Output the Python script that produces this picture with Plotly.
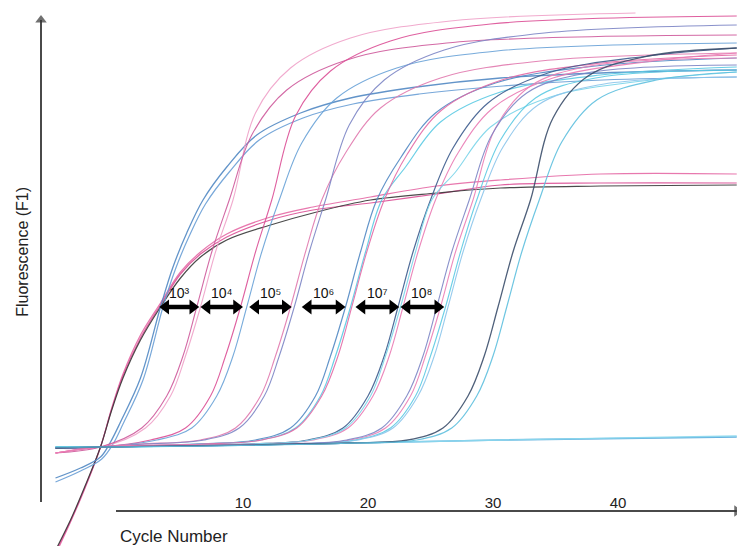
import plotly.graph_objects as go

FONT = "Arial, Liberation Sans, sans-serif"

# Cycle axis labels
cycle_ticks = [10, 20, 30, 40]

# ---- amplification curves: cycle number vs fluorescence (F1, arbitrary units) ----
# low-plateau group (black + two pink replicates)
low_cyc = [-5.4, -3.8, -2.6, -1.4, -0.5, 0.4, 1.8, 3.4, 5.0, 6.6, 8.7, 12.2, 15.6, 20.2, 25.5, 30.6, 38.6, 49.5]
low_black_f = [-5.8, -1.8, 1.7, 5.5, 9.2, 12.4, 16.2, 19.5, 22.4, 24.5, 26.2, 27.7, 28.9, 30.2, 30.9, 31.4, 31.6, 31.7]
low_pink1_f = [-6.3, -2.0, 1.5, 5.5, 9.4, 12.8, 16.7, 19.9, 23.0, 25.0, 26.8, 28.5, 29.5, 30.5, 31.6, 32.2, 32.8, 32.8]
low_pink2_f = [-6.0, -1.9, 1.6, 5.5, 9.3, 12.6, 16.4, 19.7, 22.8, 24.8, 26.5, 28.2, 29.2, 29.9, 30.8, 31.7, 31.9, 31.9]

# earliest blue replicates
blue1_cyc = [-5.0, -3.0, -1.4, -0.6, 0.2, 1.8, 3.4, 4.4, 5.5, 6.8, 8.7, 11.1, 14.6, 18.6, 23.9, 30.6, 38.6, 49.5]
blue1_f = [2.4, 3.4, 4.5, 6.0, 8.0, 12.4, 19.5, 23.5, 26.9, 30.2, 33.5, 36.7, 38.9, 40.4, 41.5, 42.4, 42.9, 43.2]
blue2_cyc = [-5.0, -3.0, -1.3, -0.4, 0.4, 2.0, 3.6, 4.6, 5.7, 7.0, 8.9, 11.3, 14.8, 18.8, 24.1, 30.8, 38.8, 49.5]
blue2_f = [2.0, 3.1, 4.3, 5.8, 7.8, 12.2, 19.5, 23.3, 26.6, 29.8, 33.0, 36.2, 38.4, 39.8, 40.8, 41.6, 42.2, 42.5]

# 10^4 step
c1_cyc = [-5.0, -1.4, 2.2, 4.2, 5.4, 6.6, 7.8, 9.2, 11.0, 13.8, 18.6, 26.6, 41.4]
c1_f = [5.4, 5.5, 7.4, 10.6, 14.6, 19.5, 25.0, 30.2, 38.9, 43.4, 46.4, 48.1, 48.9]
c2_cyc = [-5.0, -1.4, 1.9, 3.9, 5.2, 6.3, 7.5, 8.9, 10.7, 13.5, 18.3, 26.3, 49.5]
c2_f = [4.9, 5.5, 7.4, 10.6, 14.6, 19.5, 25.0, 30.2, 36.7, 41.2, 44.2, 45.9, 46.7]

# 10^5 step
d1_cyc = [-5.0, -1.4, 2.6, 5.4, 7.4, 8.6, 9.8, 11.0, 12.3, 14.2, 17.0, 21.8, 29.8, 49.5]
d1_f = [5.4, 5.5, 6.2, 7.4, 10.6, 14.6, 19.5, 25.0, 30.2, 38.6, 43.1, 46.1, 47.8, 48.6]
d2_cyc = [-5.0, -1.4, 3.1, 5.9, 7.9, 9.2, 10.3, 11.5, 12.9, 14.7, 17.5, 22.3, 30.3, 49.5]
d2_f = [5.4, 5.5, 6.2, 7.4, 10.6, 14.6, 19.5, 25.0, 30.2, 35.9, 40.4, 43.4, 45.1, 45.9]

# 10^6 step
e1_cyc = [-5.0, -1.4, 1.8, 6.6, 9.4, 11.4, 12.6, 13.8, 15.0, 16.3, 18.2, 21.0, 25.8, 33.8, 49.5]
e1_f = [4.9, 5.5, 5.8, 6.2, 7.4, 10.6, 14.6, 19.5, 25.0, 30.2, 34.9, 39.4, 42.4, 44.1, 44.9]
e2_cyc = [-5.0, -1.4, 2.1, 6.9, 9.7, 11.7, 12.9, 14.1, 15.3, 16.6, 18.5, 21.3, 26.1, 34.1, 49.5]
e2_f = [5.4, 5.5, 5.8, 6.2, 7.4, 10.6, 14.6, 19.5, 25.0, 30.2, 37.7, 42.2, 45.2, 46.9, 47.7]

# 10^7 step
f1_cyc = [-5.0, -1.4, 6.2, 11.0, 13.8, 15.8, 17.0, 18.2, 19.4, 20.7, 22.6, 25.4, 30.2, 38.2, 49.5]
f1_f = [5.4, 5.5, 5.8, 6.2, 7.4, 10.6, 14.6, 19.5, 25.0, 30.2, 34.4, 38.9, 41.9, 43.6, 44.4]
f2_cyc = [-5.0, -1.4, 6.6, 11.4, 14.2, 16.2, 17.4, 18.6, 19.8, 21.1, 23.0, 25.8, 30.6, 38.6, 49.5]
f2_f = [5.5, 5.5, 5.8, 6.2, 7.4, 10.6, 14.6, 19.5, 25.0, 30.2, 33.5, 38.0, 41.0, 42.7, 43.5]
f3_cyc = [-5.0, -1.4, 6.7, 11.5, 14.3, 16.3, 17.6, 18.7, 19.9, 21.3, 23.1, 25.9, 30.7, 38.7, 49.5]
f3_f = [4.9, 5.5, 5.8, 6.2, 7.4, 10.6, 14.6, 19.5, 25.0, 30.2, 34.7, 39.2, 42.2, 43.9, 44.7]

# 10^8 step
g1_cyc = [-5.0, -1.4, 10.4, 15.2, 18.0, 20.0, 21.3, 22.4, 23.6, 25.0, 26.8, 29.6, 34.4, 42.4, 49.5]
g1_f = [5.4, 5.5, 5.8, 6.2, 7.4, 10.6, 14.6, 19.5, 25.0, 30.2, 35.4, 39.9, 42.9, 44.6, 45.4]
g2_cyc = [-5.0, -1.4, 10.8, 15.6, 18.4, 20.4, 21.7, 22.8, 24.0, 25.4, 27.2, 30.0, 34.8, 42.8, 49.5]
g2_f = [4.9, 5.5, 5.8, 6.2, 7.4, 10.6, 14.6, 19.5, 25.0, 30.2, 34.9, 39.4, 42.4, 44.1, 44.9]
g3_cyc = [-5.0, -1.4, 10.6, 15.4, 18.2, 20.2, 21.4, 22.6, 23.8, 25.1, 27.0, 29.8, 34.6, 42.6, 49.5]
g3_f = [5.5, 5.5, 5.8, 6.2, 7.4, 10.6, 14.6, 19.5, 25.0, 30.2, 33.0, 37.5, 40.5, 42.2, 43.0]

# 10^9 step
h1_cyc = [-5.0, -1.4, 13.8, 18.6, 21.4, 23.4, 24.6, 25.8, 27.0, 28.4, 30.2, 33.0, 37.8, 49.5]
h1_f = [4.9, 5.5, 5.8, 6.2, 7.4, 10.6, 14.6, 19.5, 25.0, 30.2, 37.4, 41.6, 43.6, 44.4]
h2_cyc = [-5.0, -1.4, 14.2, 19.0, 21.8, 23.8, 25.0, 26.2, 27.4, 28.7, 30.6, 33.4, 38.2, 49.5]
h2_f = [5.5, 5.5, 5.8, 6.2, 7.4, 10.6, 14.6, 19.5, 25.0, 30.2, 36.2, 40.4, 42.4, 43.2]
h3_cyc = [-5.0, -1.4, 14.4, 19.2, 22.0, 24.0, 25.3, 26.4, 27.6, 29.0, 30.8, 33.6, 38.4, 49.5]
h3_f = [5.4, 5.5, 5.8, 6.2, 7.4, 10.6, 14.6, 19.5, 25.0, 30.2, 35.5, 39.7, 41.7, 42.5]
h4_cyc = [-5.0, -1.4, 13.5, 18.3, 21.1, 23.1, 24.4, 25.5, 26.7, 28.1, 29.9, 32.7, 37.5, 49.5]
h4_f = [5.4, 5.5, 5.8, 6.2, 7.4, 10.6, 14.6, 19.5, 25.0, 30.2, 36.7, 40.9, 42.9, 43.7]

# latest step
i1_cyc = [-5.0, -1.4, 18.4, 23.2, 26.0, 28.0, 29.3, 30.4, 31.6, 33.0, 34.8, 37.6, 42.4, 49.5]
i1_f = [5.4, 5.5, 5.9, 6.2, 7.4, 10.6, 14.6, 19.5, 25.0, 30.2, 38.4, 42.6, 44.6, 45.4]
i2_cyc = [-5.0, -1.4, 19.1, 23.9, 26.7, 28.7, 30.0, 31.1, 32.3, 33.7, 35.5, 38.3, 43.1, 49.5]
i2_f = [5.5, 5.5, 5.9, 6.2, 7.4, 10.6, 14.6, 19.5, 25.0, 30.2, 36.0, 40.2, 42.2, 43.0]

# no-template controls (flat)
ntc_cyc = [-5.0, -1.4, 14.6, 30.6, 49.5]
ntc1_f = [5.4, 5.5, 5.8, 6.2, 6.5]
ntc2_f = [5.5, 5.5, 5.8, 6.2, 6.6]

# dilution spacing arrows at the threshold level (tip-to-tip, in cycles)
dilution_labels = ["10³", "10⁴", "10⁵", "10⁶", "10⁷", "10⁸"]
arrow_start = [3.4, 6.7, 10.6, 14.8, 19.1, 22.7]
arrow_end = [6.4, 9.9, 13.8, 18.1, 22.4, 26.0]
threshold = 19.5

# axis arrows (data coordinates)
y_arrow_x = -6.16
y_arrow_span = [0.0, 48.2]
x_arrow_y = -0.9
x_arrow_span = [-0.16, 49.5]

PINK = "#dc4f96"
LPINK = "#f0a2c9"
BLUE = "#5289c4"
LBLUE = "#8cc6ec"
CYAN = "#5ccbe4"
DBLUE = "#3d5c8e"
SLATE = "#3c4f6c"
PURPLE = "#7d86c6"
BLACK = "#383838"

curves = [
    (ntc_cyc, ntc1_f, "#56a9dc", 1.6),
    (ntc_cyc, ntc2_f, "#8bd8ee", 1.3),
    (low_cyc, low_pink1_f, "#e66aa6", 1.2),
    (low_cyc, low_pink2_f, PINK, 1.2),
    (low_cyc, low_black_f, BLACK, 1.2),
    (blue1_cyc, blue1_f, BLUE, 1.3),
    (blue2_cyc, blue2_f, "#6a9fd6", 1.2),
    (c1_cyc, c1_f, LPINK, 1.1),
    (c2_cyc, c2_f, "#cf5a9c", 1.1),
    (d1_cyc, d1_f, PINK, 1.1),
    (d2_cyc, d2_f, "#6aa3d8", 1.1),
    (e1_cyc, e1_f, "#e27aaf", 1.1),
    (e2_cyc, e2_f, PURPLE, 1.1),
    (f1_cyc, f1_f, BLUE, 1.2),
    (f2_cyc, f2_f, CYAN, 1.2),
    (f3_cyc, f3_f, "#e46aa6", 1.1),
    (g1_cyc, g1_f, DBLUE, 1.2),
    (g2_cyc, g2_f, "#ea7bb4", 1.1),
    (g3_cyc, g3_f, "#7ad5ea", 1.1),
    (h1_cyc, h1_f, "#ec7fb6", 1.1),
    (h2_cyc, h2_f, CYAN, 1.1),
    (h3_cyc, h3_f, LBLUE, 1.1),
    (h4_cyc, h4_f, PURPLE, 1.1),
    (i1_cyc, i1_f, SLATE, 1.3),
    (i2_cyc, i2_f, "#5fc0df", 1.2),
]

fig = go.Figure()
for cx, cy, color, w in curves:
    fig.add_trace(go.Scatter(
        x=cx, y=cy, mode="lines",
        line=dict(color=color, width=w, shape="spline", smoothing=1.0),
        opacity=0.9, hoverinfo="skip", showlegend=False,
    ))

# double-headed arrows: thick shaft with triangle heads set just inside the tips
HEAD = 0.42  # half a head length, in cycles
for xs, xe in zip(arrow_start, arrow_end):
    fig.add_trace(go.Scatter(
        x=[xs + HEAD, xe - HEAD], y=[threshold, threshold], mode="lines+markers",
        line=dict(color="black", width=4.5),
        marker=dict(symbol=["triangle-left", "triangle-right"], size=13,
                    color="black", line=dict(width=0)),
        hoverinfo="skip", showlegend=False,
    ))

# axis lines with arrow heads
fig.add_trace(go.Scatter(
    x=[y_arrow_x, y_arrow_x], y=y_arrow_span, mode="lines+markers",
    line=dict(color="#4a4a4a", width=2),
    marker=dict(symbol=["circle", "triangle-up"], size=[0, 10], color="#333333",
                line=dict(width=0)),
    hoverinfo="skip", showlegend=False,
))
fig.add_trace(go.Scatter(
    x=x_arrow_span, y=[x_arrow_y, x_arrow_y], mode="lines+markers",
    line=dict(color="#4a4a4a", width=1.8),
    marker=dict(symbol=["circle", "triangle-right"], size=[0, 10], color="#333333",
                line=dict(width=0)),
    hoverinfo="skip", showlegend=False, cliponaxis=False,
))

annotations = []
for lab, xs, xe in zip(dilution_labels, arrow_start, arrow_end):
    annotations.append(dict(
        x=(xs + xe) / 2, y=threshold, xref="x", yref="y", text=lab,
        showarrow=False, yanchor="bottom", yshift=4,
        font=dict(family=FONT, size=14, color="#111111"),
    ))

# axis titles
annotations.append(dict(
    x=-7.7, y=25.0, xref="x", yref="y", text="Fluorescence (F1)", textangle=-90,
    showarrow=False, font=dict(family=FONT, size=16, color="#222222"),
))
annotations.append(dict(
    x=0.0, y=-3.4, xref="x", yref="y", text="Cycle Number", xanchor="left",
    showarrow=False, font=dict(family=FONT, size=17, color="#222222"),
))

fig.update_layout(
    width=737, height=546,
    margin=dict(l=0, r=0, t=0, b=0),
    paper_bgcolor="white", plot_bgcolor="white",
    showlegend=False,
    annotations=annotations,
    xaxis=dict(
        range=[-9.44, 49.52], showgrid=False, zeroline=False, showline=False,
        tickvals=cycle_ticks, ticks="", anchor="free", position=0.0641,
        side="top", tickfont=dict(family=FONT, size=15, color="#222222"),
        fixedrange=True,
    ),
    yaxis=dict(
        range=[-4.4, 50.2], visible=False, fixedrange=True,
    ),
)

fig.write_html("out.html")
